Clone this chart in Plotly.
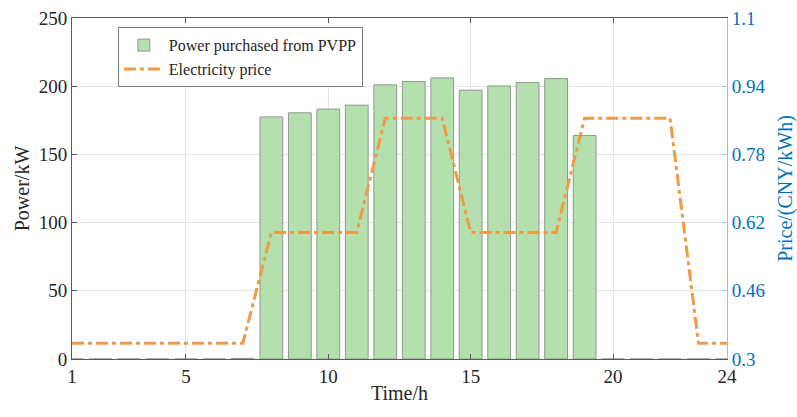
import plotly.graph_objects as go

hours = list(range(1, 25))
power_kw = [0, 0, 0, 0, 0, 0, 0.4, 177.5, 180.5, 183.2, 186.1, 201.0, 203.4, 206.1,
            197.1, 200.2, 202.7, 205.6, 163.9, 0, 0, 0, 0, 0]
price = [0.337, 0.337, 0.337, 0.337, 0.337, 0.337, 0.337, 0.597, 0.597, 0.597, 0.597,
         0.865, 0.865, 0.865, 0.597, 0.597, 0.597, 0.597, 0.865, 0.865, 0.865, 0.865,
         0.337, 0.337]
x_ticks = [1, 5, 10, 15, 20, 24]
y_ticks = [0, 50, 100, 150, 200, 250]
y2_ticks = [0.3, 0.46, 0.62, 0.78, 0.94, 1.1]

FONT = "Liberation Serif, Times New Roman, serif"
BLUE = "#0072BD"
AXIS = "#5a5a5a"

fig = go.Figure()
fig.add_trace(go.Bar(
    x=hours, y=power_kw, width=0.8, name="Power purchased from PVPP",
    marker=dict(color="#b3e0ac", line=dict(color="#8f9a8f", width=1)),
))
fig.add_trace(go.Scatter(
    x=hours, y=price, yaxis="y2", mode="lines", name="Electricity price",
    line=dict(color="#f39a45", width=3, dash="12px,4px,4px,4px"),
))

fig.update_layout(
    width=797, height=417,
    margin=dict(l=72, r=70, t=18, b=58, autoexpand=False),
    paper_bgcolor="white", plot_bgcolor="white",
    font=dict(family=FONT, size=19, color="#262626"),
    showlegend=True,
    legend=dict(x=0.07, y=0.973, xanchor="left", yanchor="top",
                bgcolor="white", bordercolor="#7f7f7f", borderwidth=1,
                font=dict(family=FONT, size=16, color="#262626"),
                itemwidth=40, tracegroupgap=0),
    bargap=0.2,
    xaxis=dict(
        range=[1, 24], tickvals=x_ticks, ticktext=[str(v) for v in x_ticks],
        showgrid=True, gridcolor="#e5e5e5", gridwidth=1,
        showline=True, linecolor=AXIS, linewidth=1, mirror="ticks",
        ticks="inside", ticklen=5, tickcolor=AXIS, zeroline=False,
        automargin=False,
        title=dict(text="Time/h", font=dict(size=20), standoff=0),
    ),
    yaxis=dict(
        range=[0, 250], tickvals=y_ticks,
        showgrid=True, gridcolor="#e5e5e5", gridwidth=1,
        showline=True, linecolor=AXIS, linewidth=1,
        ticks="inside", ticklen=5, tickcolor=AXIS, zeroline=False,
        automargin=False,
        title=dict(text="Power/kW", font=dict(size=20), standoff=3),
    ),
    yaxis2=dict(
        range=[0.3, 1.1], tickvals=y2_ticks, ticktext=[f"{v:g}" for v in y2_ticks],
        overlaying="y", side="right", showgrid=False,
        showline=True, linecolor="#8cc4ea", linewidth=1,
        ticks="inside", ticklen=5, tickcolor="#8cc4ea", zeroline=False,
        automargin=False,
        tickfont=dict(color=BLUE),
        title=dict(text="Price/(CNY/kWh)", font=dict(size=20, color=BLUE), standoff=13),
    ),
)

fig.write_html("out.html")
